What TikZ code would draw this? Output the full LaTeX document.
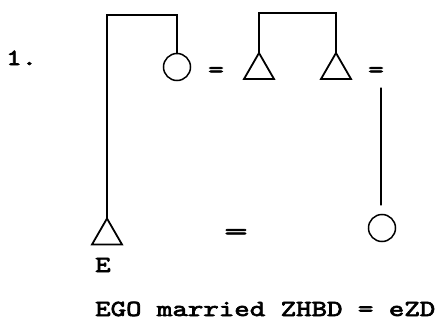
\documentclass[tikz,border=0pt]{standalone}
\usepackage{fontspec}
\usetikzlibrary{shapes.geometric}
% wide slab-serif typewriter face
\newfontfamily\typewriter{lmmono10-regular.otf}[FakeStretch=1.28, FakeBold=3]
\begin{document}
\begin{tikzpicture}[x=1pt,y=-1pt,
  kinline/.style={line width=1.2pt, line cap=round, line join=miter},
  male/.style={draw, line width=1.8pt, regular polygon, regular polygon sides=3,
    minimum size=34.6pt, inner sep=0pt, outer sep=0pt},
  female/.style={draw, line width=1.5pt, circle, minimum size=27pt,
    inner sep=0pt, outer sep=0pt},
  tw/.style={font=\typewriter\fontsize{23}{28}\selectfont,
    inner sep=0pt, anchor=base west},
  eq/.style={font=\typewriter\fontsize{23}{28}\selectfont,
    inner sep=0pt}]
  \useasboundingbox (0,0) rectangle (442,324);

  % kin symbols
  \node[female] (w1) at (177,67) {};
  \node[male]   (b1) at (259,70.3) {};
  \node[male]   (b2) at (336,70.3) {};
  \node[male]   (ego) at (107,235.8) {};
  \node[female] (w2) at (382,228) {};

  % marriage signs
  \node[eq] (m1) at (216,72) {=};
  \node[eq] (m2) at (376,72) {=};
  \node[eq, xscale=1.5] (m3) at (236,234) {=};

  % sibling brackets
  \draw[kinline] (ego.north) -- (ego.north |- 0,15) -| (w1.north);
  \draw[kinline] (b1.north) -- (b1.north |- 0,13) -| (b2.north);

  % link from the right marriage sign down to the wife
  \coordinate (l1) at (381,88);
  \coordinate (l2) at (381,205);
  \draw[kinline] (l1) -- (l2);

  % labels
  \node[tw] (num) at (6,65) {1.};
  \node[tw] (elab) at (95,272) {E};
  \node[tw] (cap) at (95,316) {EGO married ZHBD = eZD};
\end{tikzpicture}
\end{document}
